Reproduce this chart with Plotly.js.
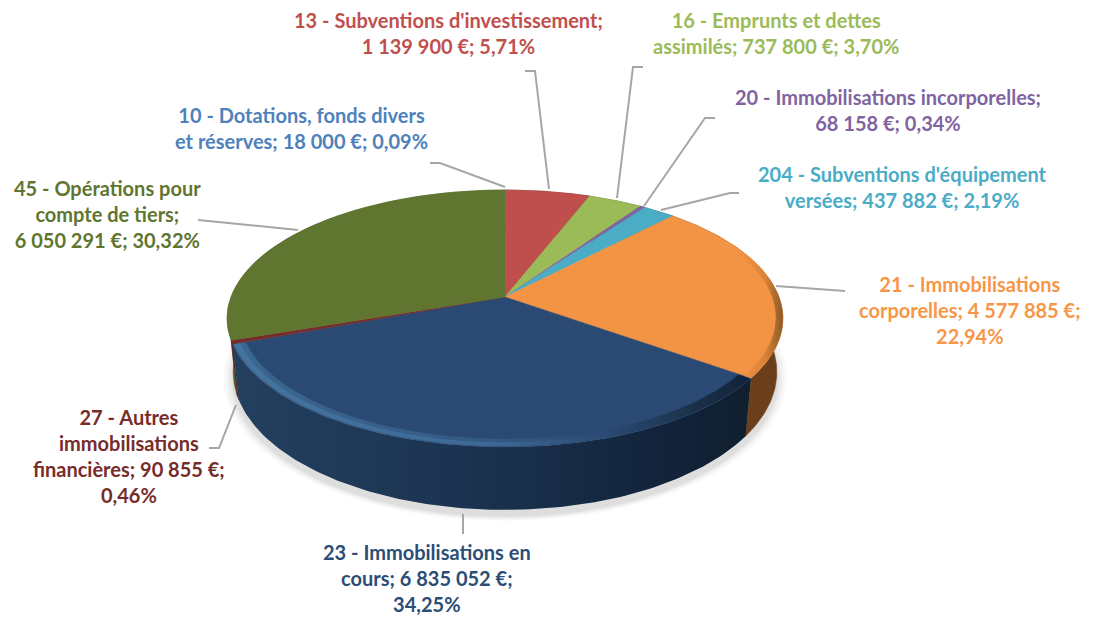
<!DOCTYPE html>
<html><head><meta charset="utf-8">
<script src="https://cdn.plot.ly/plotly-3.0.1.min.js"></script>
<style>html,body{margin:0;padding:0;background:#fff}#c{width:1094px;height:619px}</style>
</head><body><div id="c"></div>
<script>
const categories=["10 - Dotations, fonds divers et réserves","13 - Subventions d'investissement","16 - Emprunts et dettes assimilés","20 - Immobilisations incorporelles","204 - Subventions d'équipement versées","21 - Immobilisations corporelles","23 - Immobilisations en cours","27 - Autres immobilisations financières","45 - Opérations pour compte de tiers"];
const amounts=[18000,1139900,737800,68158,437882,4577885,6835052,90855,6050291];
const colors=["#4F81BD","#BE4F4C","#9BBB59","#8064A2","#4BACC6","#F39444","#2A4A73","#772C2A","#5F7530"];
const wallColors=["#2a4565","#6a2a28","#55672f","#453658","#286070","#6B3F1A","#1b3350","#5a1f1e","#4f6228"];
const labelTexts=[
"10 - Dotations, fonds divers<br>et réserves; 18 000 €; 0,09%",
"13 - Subventions d'investissement;<br>1 139 900 €; 5,71%",
"16 - Emprunts et dettes<br>assimilés; 737 800 €; 3,70%",
"20 - Immobilisations incorporelles;<br>68 158 €; 0,34%",
"204 - Subventions d'équipement<br>versées; 437 882 €; 2,19%",
"21 - Immobilisations<br>corporelles; 4 577 885 €;<br>22,94%",
"23 - Immobilisations en<br>cours; 6 835 052 €;<br>34,25%",
"27 - Autres<br>immobilisations<br>financières; 90 855 €;<br>0,46%",
"45 - Opérations pour<br>compte de tiers;<br>6 050 291 €; 30,32%"];
const labelTextColors=["#4F81BD","#C0504D","#9BBB59","#8064A2","#4BACC6","#F79646","#2C4D75","#772C2A","#5F7530"];
const labelPos=[[301,128],[448,33],[776,33],[888,110],[902,187],[970,310],[427,578],[129,456],[107,214]];
const leaders=[
[[430,163],[440,163],[505,187]],
[[525,71],[535,71],[549,189]],
[[643,67],[633,67],[617,198]],
[[715,118],[705,118],[644,206]],
[[739,193],[730,193],[661,210]],
[[776,286],[845,291]],
[[463,514],[463,534]],
[[236,405],[219,448],[209,448]],
[[298,230],[198,220]]];

// Tilted-disc projection of the pie: a perspective view of a unit circle.
const K=0.167;
const TOP={cx:505,y0:297,A:274,B:124.9};
const BOT={cx:505,y0:349,A:268,B:134};
function proj(g,deg,r){
  const t=deg*Math.PI/180,X=r*Math.sin(t),Y=r*Math.cos(t),d=1+K*Y;
  return [g.cx+g.A*X/d,g.y0-g.B*Y/d];
}
function arc(g,a,b,r){
  const pts=[],n=Math.max(2,Math.ceil(Math.abs(b-a)));
  for(let i=0;i<=n;i++)pts.push(proj(g,a+(b-a)*i/n,r));
  return pts;
}
function poly(pts,color,grad,name){
  const t={type:'scatter',mode:'lines',x:pts.map(p=>p[0]),y:pts.map(p=>p[1]),fill:'toself',
    line:{width:grad?0:0.5,color:color},fillcolor:color,hoverinfo:name?'text':'skip',text:name||'',showlegend:false};
  if(grad){t.fillgradient={type:grad.type||'horizontal',colorscale:grad.scale};if(grad.start!==undefined){t.fillgradient.start=grad.start;t.fillgradient.stop=grad.stop;}}
  return t;
}
const total=amounts.reduce((a,b)=>a+b,0);
const edges=[0];amounts.forEach(v=>edges.push(edges[edges.length-1]+v/total*360));

const traces=[];
// walls
const order=[0,1,2,3,4,8,5,7,6];
order.forEach(i=>{
  const a=edges[i],b=edges[i+1];
  const pts=arc(TOP,a,b,1).concat(arc(BOT,b,a,1));
  pts.push(pts[0]);
  let g=null;
  if(i===6)g={scale:[[0,'#24405f'],[0.45,'#1b3350'],[0.85,'#12233a'],[1,'#101f2e']]};
  traces.push(poly(pts,wallColors[i],g));
});
// top faces
amounts.forEach((v,i)=>{
  const pts=[[TOP.cx,TOP.y0]].concat(arc(TOP,edges[i],edges[i+1],1));
  pts.push(pts[0]);
  traces.push(poly(pts,colors[i],null,categories[i]));
});
// rim shading
function band(a,b,r1,r2,g){
  const pts=arc(TOP,a,b,r2).concat(arc(TOP,b,a,r1));pts.push(pts[0]);
  return poly(pts,'#000',g);
}
traces.push(band(edges[6]+0.2,edges[7]-0.2,0.955,1,{scale:[[0,'#3a668f'],[0.5,'#335a85'],[0.72,'#2a4a73'],[0.9,'#1a3048'],[1,'#12233a']]}));
traces.push(band(edges[6]+0.2,edges[7]-0.2,0.975,0.995,{scale:[[0,'#44749f'],[0.5,'#3d6a96'],[0.72,'#2a4a73'],[0.9,'#1a3048'],[1,'#12233a']]}));
traces.push(band(edges[5]+25,edges[6],0.975,1,{scale:[[0,'#F39444'],[0.6,'#d98338'],[1,'#8a5a28']]}));

const shapes=[];
// soft shadow under the disc
[[1.035,0.05],[1.025,0.06],[1.015,0.08],[1.006,0.10]].forEach(s=>{
  const rx=272*s[0],ry=138*s[0];
  shapes.push({type:'circle',layer:'below',xref:'x',yref:'y',x0:505-rx,x1:505+rx,y0:372-ry+6,y1:372+ry+6,fillcolor:'#808080',opacity:s[1],line:{width:0}});
});
leaders.forEach(l=>{
  shapes.push({type:'path',xref:'x',yref:'y',path:'M'+l.map(p=>p.join(',')).join('L'),line:{color:'#A6A6A6',width:2},fillcolor:'rgba(0,0,0,0)'});
});
const annotations=labelTexts.map((t,i)=>({text:t,x:labelPos[i][0],y:labelPos[i][1],xref:'x',yref:'y',xanchor:'center',yanchor:'middle',align:'center',showarrow:false,
  font:{family:'Lato, Carlito, sans-serif',size:20,weight:700,color:labelTextColors[i]}}));

Plotly.newPlot('c',traces,{
  width:1094,height:619,margin:{l:0,r:0,t:0,b:0},paper_bgcolor:'#fff',plot_bgcolor:'#fff',showlegend:false,
  xaxis:{range:[0,1094],visible:false,fixedrange:true},
  yaxis:{range:[619,0],visible:false,fixedrange:true},
  shapes:shapes,annotations:annotations
},{displayModeBar:false,staticPlot:false});
</script></body></html>
